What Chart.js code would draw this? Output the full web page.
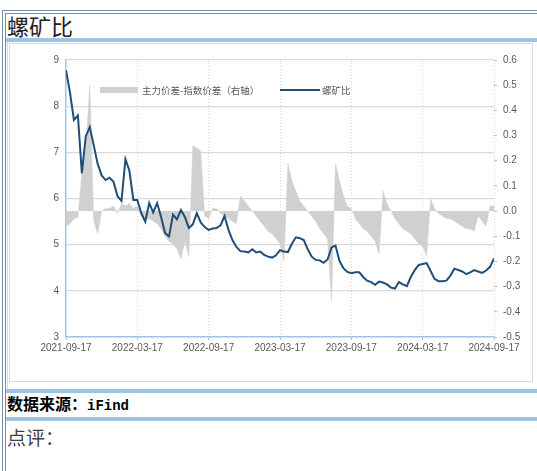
<!DOCTYPE html>
<html>
<head>
<meta charset="utf-8">
<script src="https://cdn.jsdelivr.net/npm/chart.js@4/dist/chart.umd.min.js"></script>
<style>
  html, body { margin: 0; padding: 0; background: #fff; width: 537px; height: 471px; overflow: hidden; position: relative; font-family: "Noto Sans CJK SC", sans-serif; }
  .abs { position: absolute; }
  .frame { background: #7389a5; }
  .band { background: #9dc3e6; }
  #title { left: 7px; top: 14px; font-size: 22px; line-height: 22px; color: #222; }
  #source { left: 7px; top: 395px; font-size: 16px; line-height: 16px; font-weight: bold; color: #000; }
  #source span { font-family: "Liberation Mono", monospace; font-size: 14px; }
  #comment { left: 7px; top: 427px; font-size: 19px; line-height: 19px; color: #404040; }
  #box { left: 9px; top: 43px; width: 522px; height: 337px; border: 1px solid #d9d9d9; }
  #chartWrap { left: 10px; top: 44px; width: 522px; height: 337px; }
  .leg { font-size: 9.5px; line-height: 10px; color: #595959; white-space: nowrap; }
</style>
</head>
<body>
<div class="abs frame" style="left:2px;top:10px;width:535px;height:1px"></div>
<div class="abs frame" style="left:5px;top:13px;width:532px;height:1px"></div>
<div class="abs frame" style="left:2px;top:10px;width:1px;height:461px"></div>
<div class="abs frame" style="left:5px;top:13px;width:1px;height:458px"></div>
<div class="abs" style="left:7px;top:42px;width:1px;height:347px;background:#d9d9d9"></div>

<div id="title" class="abs">螺矿比</div>
<div class="abs band" style="left:6px;top:38px;width:531px;height:4px"></div>

<div id="box" class="abs"></div>
<div id="chartWrap" class="abs"><canvas id="ratioChart" width="522" height="337"></canvas></div>

<div class="abs" style="left:100px;top:87px;width:38px;height:6px;background:#d0d0d0"></div>
<div class="abs leg" style="left:142px;top:85px">主力价差-指数价差（右轴）</div>
<div class="abs" style="left:280px;top:89px;width:40px;height:2px;background:#1f4e79"></div>
<div class="abs leg" style="left:322px;top:85px">螺矿比</div>

<div class="abs band" style="left:6px;top:389px;width:531px;height:4px"></div>
<div id="source" class="abs">数据来源：<span>iFind</span></div>
<div class="abs band" style="left:6px;top:417px;width:531px;height:4px"></div>
<div id="comment" class="abs">点评：</div>

<script>
// ─── DATA ───
// x axis tick labels, one every 6 months
const TICK_LABELS = ['2021-09-17', '2022-03-17', '2022-09-17', '2023-03-17', '2023-09-17', '2024-03-17', '2024-09-17'];
// samples are taken three times a month (~every 10 days)
const SAMPLES_PER_MONTH = 3;

// 螺矿比 (left axis)
const RATIO = [
  8.78, 8.30, 7.70, 7.80, 6.55, 7.35, 7.55, 7.15, 6.75, 6.50,
  6.40, 6.45, 6.36, 6.05, 5.95, 6.85, 6.60, 5.97, 5.97, 5.68,
  5.50, 5.90, 5.70, 5.90, 5.60, 5.25, 5.18, 5.65, 5.55, 5.75,
  5.60, 5.36, 5.44, 5.68, 5.48, 5.38, 5.32, 5.35, 5.36, 5.42,
  5.62, 5.32, 5.10, 4.95, 4.86, 4.85, 4.83, 4.90, 4.83, 4.85,
  4.78, 4.74, 4.72, 4.77, 4.88, 4.85, 4.84, 5.02, 5.16, 5.14,
  5.10, 4.90, 4.74, 4.67, 4.66, 4.61, 4.68, 4.94, 4.98, 4.65,
  4.49, 4.41, 4.38, 4.40, 4.40, 4.30, 4.22, 4.19, 4.13, 4.20,
  4.18, 4.14, 4.07, 4.05, 4.19, 4.14, 4.10, 4.30, 4.45, 4.56,
  4.58, 4.60, 4.43, 4.26, 4.21, 4.21, 4.22, 4.33, 4.48, 4.45,
  4.42, 4.36, 4.40, 4.45, 4.42, 4.39, 4.44, 4.52, 4.70,
];

// 主力价差-指数价差 (right axis)
const SPREAD = [
  -0.06, -0.05, -0.03, -0.025, 0.15, 0.25, 0.50, -0.04, -0.09, 0.00,
  0.01, 0.01, 0.02, -0.01, 0.03, 0.02, 0.03, 0.01, 0.02, -0.02,
  -0.03, -0.03, -0.04, -0.05, -0.07, -0.10, -0.12, -0.13, -0.15, -0.19,
  -0.12, -0.18, 0.26, 0.25, 0.24, -0.02, -0.03, 0.01, 0.01, -0.01,
  -0.02, -0.03, -0.04, -0.05, 0.06, 0.04, 0.02, 0.00, -0.02, -0.04,
  -0.06, -0.08, -0.09, -0.11, -0.13, -0.20, 0.19, 0.12, 0.08, 0.04,
  0.02, 0.00, -0.02, -0.04, -0.07, -0.09, -0.11, -0.36, 0.19, 0.12,
  0.06, 0.02, 0.01, -0.03, -0.05, -0.07, -0.08, -0.10, -0.12, -0.17,
  0.08, 0.03, 0.00, -0.03, -0.05, -0.07, -0.08, -0.09, -0.11, -0.13,
  -0.14, -0.18, 0.05, 0.01, -0.01, -0.02, -0.03, -0.03, -0.04, -0.05,
  -0.06, -0.07, -0.07, -0.08, -0.02, -0.04, -0.06, 0.02, 0.02,
];

const AXIS_BLUE = '#9dc3e6';
const GRID_GRAY = '#d9d9d9';
const TICK_FONT = { family: 'Liberation Sans', size: 10 };

const toPoints = arr => arr.map((v, i) => ({ x: i / SAMPLES_PER_MONTH, y: v }));

new Chart(document.getElementById('ratioChart').getContext('2d'), {
  type: 'line',
  data: {
    datasets: [
      {
        label: '螺矿比', data: toPoints(RATIO), yAxisID: 'y',
        borderColor: '#1f4e79', borderWidth: 2, pointRadius: 0, tension: 0, fill: false, order: 0,
      },
      {
        // dense columns -> drawn as an area down to zero
        label: '主力价差-指数价差（右轴）', data: toPoints(SPREAD), yAxisID: 'y1',
        fill: 'origin', backgroundColor: '#d0d0d0',
        borderColor: '#d0d0d0', borderWidth: 0.5, pointRadius: 0, tension: 0, order: 1,
      },
    ],
  },
  options: {
    responsive: false, animation: false, devicePixelRatio: 1,
    layout: { padding: { top: 16, left: 0, right: 0, bottom: 0 } },
    plugins: { legend: { display: false }, tooltip: { enabled: false } },
    scales: {
      x: {
        type: 'linear', min: 0, max: 36, offset: false,
        afterFit: s => { s.height = 44; },
        afterBuildTicks: s => { s.ticks = TICK_LABELS.map((_, i) => ({ value: i * 6 })); },
        ticks: { color: '#595959', font: TICK_FONT, padding: 2, maxRotation: 0, autoSkip: false,
                 callback: v => TICK_LABELS[v / 6] },
        grid: { color: c => (c.tick && c.tick.value === 0 ? 'rgba(0,0,0,0)' : GRID_GRAY),
                tickColor: AXIS_BLUE, tickLength: 3, lineWidth: 1 },
        border: { color: AXIS_BLUE, width: 1.5, dash: [1, 2] },
      },
      y: {
        position: 'left', min: 3, max: 9,
        afterFit: s => { s.width = 56; },
        ticks: { stepSize: 1, color: '#595959', font: TICK_FONT, padding: 7 },
        grid: { color: c => (c.tick && c.tick.value === 3 ? 'rgba(0,0,0,0)' : GRID_GRAY), lineWidth: 1.2, drawTicks: false },
        border: { color: AXIS_BLUE, width: 1.5 },
      },
      y1: {
        position: 'right', min: -0.5, max: 0.6,
        afterFit: s => { s.width = 38; },
        ticks: { stepSize: 0.1, color: '#595959', font: TICK_FONT, padding: 6,
                 callback: v => (Math.abs(v) < 1e-9 ? '0.0' : v.toFixed(1)) },
        grid: { drawOnChartArea: false, tickLength: 3, tickColor: '#bfbfbf' },
        border: { display: false },
      },
    },
  },
});
</script>
</body>
</html>
